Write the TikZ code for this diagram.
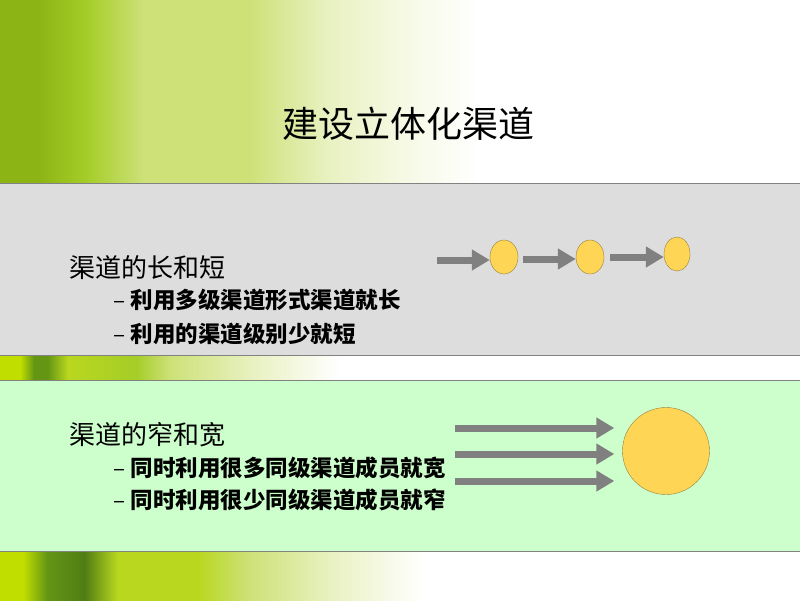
\documentclass[tikz,border=0pt]{standalone}
\usepackage{fontspec}
\setmainfont{Noto Sans CJK SC}
\usetikzlibrary{arrows.meta,shapes.geometric}

\definecolor{bandgray}{RGB}{221,221,221}
\definecolor{bandgreen}{RGB}{204,255,204}
\definecolor{bandline}{RGB}{130,130,130}
\definecolor{ballfill}{RGB}{255,213,85}
\definecolor{balldraw}{RGB}{150,128,60}
\definecolor{arrowgray}{RGB}{128,128,128}
\definecolor{leafA}{RGB}{140,180,20}
\definecolor{leafB}{RGB}{165,205,40}
\definecolor{leafC}{RGB}{205,225,120}
\definecolor{leafD}{RGB}{232,241,192}
\definecolor{leafE}{RGB}{246,249,228}
\definecolor{leafF}{RGB}{192,222,0}
\definecolor{leafG}{RGB}{100,150,20}
\definecolor{leafH}{RGB}{80,125,20}
\definecolor{leafI}{RGB}{185,215,30}

% leaf picture, approximated by shadings (visible part is 25bp to 75bp)
\pgfdeclarehorizontalshading{leaftop}{100bp}{color(0bp)=(leafA); color(25bp)=(leafA); color(29bp)=(leafA); color(34bp)=(leafB); color(40bp)=(leafC); color(51bp)=(leafC); color(59bp)=(leafD); color(67bp)=(leafE); color(75bp)=(white); color(100bp)=(white)}
\pgfdeclarehorizontalshading{leafmid}{100bp}{color(0bp)=(leafF); color(25bp)=(leafF); color(28bp)=(leafF); color(30bp)=(leafG); color(32bp)=(leafG); color(35bp)=(leafI); color(45bp)=(leafB); color(50bp)=(leafC); color(62bp)=(leafD); color(75bp)=(white); color(100bp)=(white)}
\pgfdeclarehorizontalshading{leafbot}{100bp}{color(0bp)=(leafF); color(25bp)=(leafF); color(27.5bp)=(leafF); color(30bp)=(leafG); color(34bp)=(leafH); color(37.5bp)=(leafI); color(46bp)=(leafI); color(51.5bp)=(leafC); color(60bp)=(leafD); color(70bp)=(white); color(100bp)=(white)}

\begin{document}
\begin{tikzpicture}[x=1pt, y=-1pt,
    band/.style = {draw=bandline, line width=1pt},
    ball/.style = {draw=balldraw, fill=ballfill, ellipse, inner sep=0pt},
    blockarrow/.style = {draw=arrowgray, line width=7pt, -{Triangle[length=18pt, width=20pt]}},
    head/.style = {anchor=base west, font=\fontsize{26}{30}\selectfont},
    item/.style = {anchor=base west, font=\fontsize{22.5}{26}\selectfont}]
    \useasboundingbox (0,0) rectangle (800,600);
    \fill[white] (0,0) rectangle (800,600);

    % leaf picture
    \shade[shading=leaftop] (0,0) rectangle (480,183);
    \shade[shading=leafmid] (0,355) rectangle (340,380);
    \shade[shading=leafbot] (0,551) rectangle (470,600);

    % bands
    \fill[bandgray] (0,183) rectangle (800,355);
    \draw[band] (0,183) -- (800,183);
    \draw[band] (0,355) -- (800,355);
    \fill[bandgreen] (0,380) rectangle (800,551);
    \draw[band] (0,380) -- (800,380);
    \draw[band] (0,551) -- (800,551);

    \node (title) at (408,124) {\fontsize{36}{40}\selectfont 建设立体化渠道};

    % long and short
    \node[head] (long) at (66,277) {渠道的长和短};
    \node[item] (long1) at (110,308) {–\hspace{5pt}\textbf{利用多级渠道形式渠道就长}};
    \node[item] (long2) at (110,342) {–\hspace{5pt}\textbf{利用的渠道级别少就短}};

    \node[ball, minimum width=28pt, minimum height=34pt] (b1) at (504,257) {};
    \node[ball, minimum width=28pt, minimum height=34pt] (b2) at (590,257) {};
    \node[ball, minimum width=26pt, minimum height=34pt] (b3) at (677,254) {};
    \coordinate (a1) at (437,260);
    \coordinate (a2) at (523,259);
    \coordinate (a3) at (610,257);
    \draw[blockarrow] (a1) -- (a1 -| b1.west);
    \draw[blockarrow] (a2) -- (a2 -| b2.west);
    \draw[blockarrow] (a3) -- (a3 -| b3.west);

    % narrow and wide
    \node[head] (wide) at (66,444) {渠道的窄和宽};
    \node[item] (wide1) at (110,476) {–\hspace{5pt}\textbf{同时利用很多同级渠道成员就宽}};
    \node[item] (wide2) at (110,508) {–\hspace{5pt}\textbf{同时利用很少同级渠道成员就窄}};

    \node[ball, circle, minimum size=87pt] (big) at (666,451) {};
    \coordinate (c1) at (455,428);
    \coordinate (c2) at (455,454);
    \coordinate (c3) at (455,481);
    \draw[blockarrow, shorten >=8pt] (c1) -- (c1 -| big.west);
    \draw[blockarrow, shorten >=8pt] (c2) -- (c2 -| big.west);
    \draw[blockarrow, shorten >=8pt] (c3) -- (c3 -| big.west);
\end{tikzpicture}
\end{document}
